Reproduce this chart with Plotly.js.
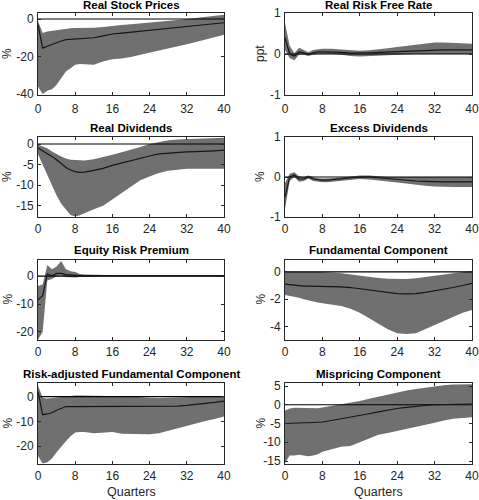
<!DOCTYPE html>
<html>
<head>
<meta charset="utf-8">
<script src="https://cdn.plot.ly/plotly-3.0.1.min.js"></script>
<style>html,body{margin:0;padding:0;background:#fff;}#chart{width:479px;height:500px;}</style>
</head>
<body>
<div id="chart"></div>
<script>
// Horizon (quarters)
const quarters = [0,1,2,3,4,5,6,7,8,9,10,12,14,16,18,20,22,24,26,28,30,32,34,36,38,40];
const xTicks = [0,8,16,24,32,40];

const titles = ["Real Stock Prices","Real Risk Free Rate","Real Dividends","Excess Dividends",
  "Equity Risk Premium","Fundamental Component","Risk-adjusted Fundamental Component","Mispricing Component"];
const unitLabels = ["%","ppt","%","%","%","%","%","%"];

// Real Stock Prices
const stockMed = [-3,-15.5,-14.5,-13.5,-12.5,-11.7,-11,-10.8,-10.6,-10.4,-10.3,-10,-9,-8,-7.5,-7,-6.5,-6,-5.5,-5,-4.5,-4,-3.5,-3,-2.5,-2];
const stockHi  = [-1,-7.5,-6.6,-6.2,-5.8,-5.4,-5,-4.9,-4.8,-4.8,-4.8,-4.7,-4.2,-3.6,-3.2,-2.8,-2.4,-2,-1.5,-1,-0.5,0,0.6,1.2,1.8,2.3];
const stockLo  = [-36,-40,-38.2,-37.5,-35,-31.5,-28,-26.2,-24.4,-24,-24,-24.4,-22.7,-21.4,-21,-20.3,-19,-17.8,-16.8,-15.7,-14.6,-13.4,-12.3,-11,-9.5,-8.4];
// Real Risk Free Rate
const rfMed = [0.4,0.0,-0.05,0.05,0.03,-0.01,0.03,0.05,0.05,0.05,0.05,0.04,0.02,0.02,0.03,0.04,0.05,0.06,0.07,0.08,0.09,0.1,0.1,0.1,0.1,0.1];
const rfHi  = [0.75,0.2,0.02,0.15,0.1,0.04,0.1,0.12,0.13,0.13,0.13,0.11,0.09,0.08,0.09,0.11,0.14,0.17,0.2,0.23,0.26,0.28,0.28,0.27,0.26,0.25];
const rfLo  = [0.1,-0.1,-0.15,-0.02,-0.02,-0.05,-0.02,0,0,0,0,-0.02,-0.05,-0.06,-0.05,-0.03,-0.02,-0.01,-0.01,0,0,0,0,0,0,0];
// Real Dividends
const divMed = [-1,-1.6,-2.2,-3,-3.8,-4.8,-5.7,-6.3,-6.7,-6.9,-6.8,-6.4,-5.9,-5.2,-4.6,-4,-3.4,-2.9,-2.4,-2.2,-2,-1.9,-1.85,-1.8,-1.65,-1.5];
const divHi  = [-0.2,-0.6,-1,-1.8,-2.5,-3,-3.5,-3.8,-3.9,-4,-4,-3.7,-3.2,-2.6,-2,-1.4,-0.7,0,0.5,0.9,1.1,1.2,1.25,1.3,1.4,1.5];
const divLo  = [-2.5,-5,-7.5,-10,-12.5,-14.5,-16,-17.2,-17.6,-17.3,-16.8,-15.8,-15,-13.5,-12,-10.5,-8.8,-7.9,-7,-6.5,-6.2,-6,-6,-6,-6,-6];
// Excess Dividends
const exMed = [-0.5,0,0.05,-0.05,-0.05,0,-0.05,-0.07,-0.08,-0.08,-0.07,-0.05,-0.02,0,0,-0.02,-0.05,-0.07,-0.09,-0.1,-0.11,-0.12,-0.12,-0.12,-0.12,-0.12];
const exHi  = [-0.15,0.08,0.12,0.02,0,0.04,0,-0.03,-0.04,-0.04,-0.03,-0.01,0.02,0.04,0.04,0.02,0,0,0,0,0,0,0,0,0,0];
const exLo  = [-0.8,-0.1,0,-0.12,-0.1,-0.04,-0.1,-0.12,-0.13,-0.13,-0.12,-0.1,-0.07,-0.05,-0.06,-0.08,-0.11,-0.14,-0.17,-0.2,-0.22,-0.24,-0.25,-0.25,-0.25,-0.25];
// Equity Risk Premium
const erpMed = [-8.5,-7,0.8,0.2,1,1,0.6,0.4,0.3,0.25,0.2,0.2,0.2,0.2,0.2,0.2,0.2,0.2,0.2,0.2,0.2,0.2,0.2,0.2,0.2,0.2];
const erpHi  = [-3.5,-3,4,2.5,3.5,5.5,2.5,1.8,1.5,0.8,0.6,0.5,0.4,0.35,0.3,0.3,0.3,0.3,0.3,0.3,0.3,0.3,0.3,0.3,0.3,0.3];
const erpLo  = [-22.7,-20,-1.5,-1,0,0.3,-0.3,-0.5,-0.5,-0.3,-0.2,-0.1,0,0,0,0,0,0,0,0,0,0,0,0,0,0];
// Fundamental Component
const fundMed = [-0.9,-0.95,-1.0,-1.02,-1.05,-1.05,-1.05,-1.05,-1.05,-1.05,-1.07,-1.1,-1.15,-1.25,-1.35,-1.45,-1.55,-1.6,-1.62,-1.6,-1.5,-1.4,-1.3,-1.15,-1.0,-0.85];
const fundHi  = [0,-0.01,-0.02,-0.03,-0.03,-0.02,0,0,-0.02,-0.03,-0.05,-0.1,-0.2,-0.3,-0.4,-0.45,-0.5,-0.52,-0.52,-0.48,-0.4,-0.3,-0.2,-0.1,-0.05,0.05];
const fundLo  = [-1.7,-1.75,-1.8,-1.9,-2.0,-2.1,-2.2,-2.25,-2.3,-2.35,-2.4,-2.5,-2.7,-3.0,-3.4,-3.8,-4.2,-4.5,-4.55,-4.5,-4.2,-3.9,-3.6,-3.3,-3.0,-2.8];
// Risk-adjusted Fundamental Component
const raMed = [2,-7.3,-7,-6.5,-5.5,-4.8,-4,-4,-4,-4,-4,-4,-4,-4,-4,-4,-4,-4,-4,-4,-3.8,-3.5,-3.2,-2.8,-2.3,-1.8];
const raHi  = [4.5,-0.5,-0.8,-0.6,-0.3,0,0.3,0.4,0.5,0.5,0.5,0.5,0.4,0.3,0.2,0,-0.3,-0.5,-0.6,-0.5,-0.3,-0.1,0.1,0.2,0.3,0.3];
const raLo  = [-24,-27,-26.5,-25,-22.5,-20,-18,-16,-14.5,-14.3,-14.3,-14.8,-14.5,-14.3,-15,-15,-15,-15.2,-14.8,-13.8,-12.8,-11.5,-10.5,-9.8,-9,-8];
// Mispricing Component
const misMed = [-5,-4.9,-4.8,-4.8,-4.8,-4.8,-4.8,-4.7,-4.6,-4.4,-4.2,-3.7,-3.2,-2.8,-2.4,-1.9,-1.4,-1.0,-0.7,-0.4,-0.2,0,0.1,0.2,0.2,0.2];
const misHi  = [-1.5,-1,-0.8,-0.8,-0.8,-0.9,-1,-0.9,-0.7,-0.5,-0.2,0.2,0.5,1,1.6,2.2,2.8,3.4,3.8,4.2,4.6,5,5.2,5.4,5.5,5.5];
const misLo  = [-15.5,-13.5,-13.5,-13.3,-13.5,-13.7,-13.5,-13.2,-12.5,-12.2,-12,-11.2,-11,-10,-8.8,-8,-7.5,-7,-6.5,-5.8,-5.3,-4.8,-4.2,-3.7,-3.5,-3.3];

const yTickVals = [[-40,-20,0],[-1,0,1],[-15,-10,-5,0],[-1,0,1],[-20,-10,0],[-4,-2,0],[-20,-10,0],[-15,-10,-5,0,5]];

const panels = [
  [stockMed,stockHi,stockLo],[rfMed,rfHi,rfLo],[divMed,divHi,divLo],[exMed,exHi,exLo],
  [erpMed,erpHi,erpLo],[fundMed,fundHi,fundLo],[raMed,raHi,raLo],[misMed,misHi,misLo]
];

// layout geometry
const W = 479, H = 500;
const colPx = [[38,224],[285,472]];
const rowPx = [[13,95],[137,217],[259.5,339.5],[383,464]];
const yRanges = [[-40.5,3.2],[-1,1],[-17.7,1.7],[-1,1],[-22.7,6],[-4.95,0.9],[-27.2,5.5],[-15.8,5.8]];

const FONT = "Liberation Sans, Arial, sans-serif";
const INK = "#262626";
const BAND = "#707070";

const traces = [];
const layout = {
  width: W, height: H,
  margin: {l:0,r:0,t:0,b:0},
  paper_bgcolor: "#fff", plot_bgcolor: "#fff",
  showlegend: false,
  font: {family: FONT, size: 12, color: INK},
  annotations: []
};

panels.forEach((p, i) => {
  const col = i % 2, row = Math.floor(i / 2);
  const n = i + 1;
  const xa = "x" + (n === 1 ? "" : n), ya = "y" + (n === 1 ? "" : n);
  const [med, hi, lo] = p;
  traces.push({x: quarters, y: lo, xaxis: xa, yaxis: ya, mode: "lines", line: {width: 0, color: BAND}, hoverinfo: "skip"});
  traces.push({x: quarters, y: hi, xaxis: xa, yaxis: ya, mode: "lines", line: {width: 0, color: BAND}, fill: "tonexty", fillcolor: BAND, hoverinfo: "skip"});
  traces.push({x: quarters, y: quarters.map(() => 0), xaxis: xa, yaxis: ya, mode: "lines", line: {width: 1.2, color: "#000"}});
  traces.push({x: quarters, y: med, xaxis: xa, yaxis: ya, mode: "lines", line: {width: 1.2, color: "#161616"}});

  const xd = [colPx[col][0] / W, colPx[col][1] / W];
  const yd = [1 - rowPx[row][1] / H, 1 - rowPx[row][0] / H];
  const axCommon = {showline: true, mirror: "ticks", linecolor: INK, linewidth: 1, ticks: "inside", ticklen: 3,
    tickcolor: INK, showgrid: false, zeroline: false, tickfont: {family: FONT, size: 12, color: INK}};
  layout["xaxis" + (n === 1 ? "" : n)] = Object.assign({}, axCommon, {
    domain: xd, anchor: ya, range: [0, 40], tickvals: xTicks, ticktext: xTicks.map(String),
    ticklabelstandoff: row === 0 ? 3 : 1
  });
  layout["yaxis" + (n === 1 ? "" : n)] = Object.assign({}, axCommon, {
    domain: yd, anchor: xa, range: yRanges[i], tickvals: yTickVals[i], ticktext: yTickVals[i].map(String), ticklabelstandoff: 1
  });
  // panel title
  layout.annotations.push({text: "<b>" + titles[i] + "</b>", xref: "paper", yref: "paper",
    x: (xd[0] + xd[1]) / 2, y: yd[1], xanchor: "center", yanchor: "bottom", yshift: row === 0 ? 0 : 1.5, showarrow: false,
    font: {family: FONT, size: 11.5, color: "#000"}});
  // unit label
  layout.annotations.push({text: unitLabels[i], xref: "paper", yref: "paper",
    x: (col === 0 ? 7 : 260) / W, y: (yd[0] + yd[1]) / 2, xanchor: "center", yanchor: "middle", textangle: -90,
    showarrow: false, font: {family: FONT, size: 12, color: INK}});
  if (row === 3) {
    layout.annotations.push({text: "Quarters", xref: "paper", yref: "paper",
      x: (xd[0] + xd[1]) / 2, y: 1 - 492 / H, xanchor: "center", yanchor: "middle", showarrow: false,
      font: {family: FONT, size: 12.5, color: INK}});
  }
});

Plotly.newPlot("chart", traces, layout, {staticPlot: true, displayModeBar: false});
</script>
</body>
</html>
